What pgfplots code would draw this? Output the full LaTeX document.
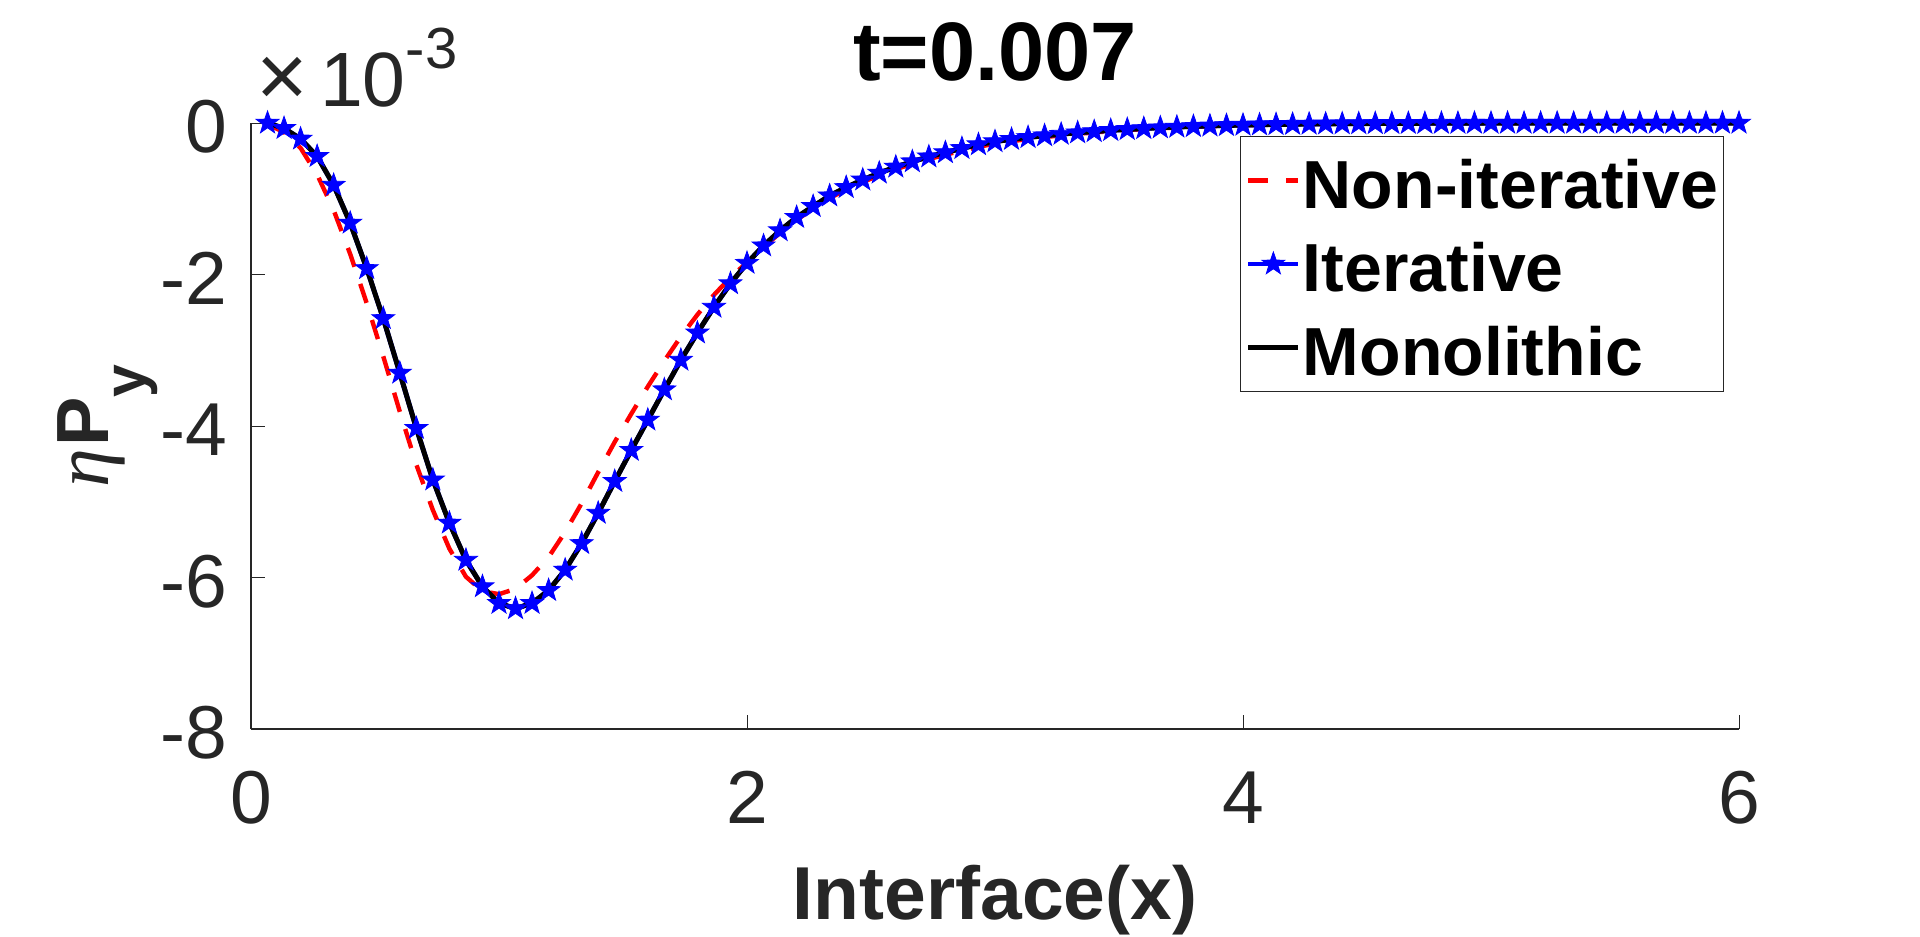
\documentclass[border=0pt]{standalone}
\usepackage{fontspec}
\setmainfont{Liberation Sans}
\newfontfamily\seriffont{Liberation Serif}
\usepackage{pgfplots}
\pgfplotsset{compat=1.18}
\usepackage{pgfplotstable}
\definecolor{g15}{rgb}{0.15,0.15,0.15}
\pgfdeclareplotmark{pstar}{%
  \pgfpathmoveto{\pgfpointpolar{90}{\pgfplotmarksize}}%
  \pgfpathlineto{\pgfpointpolar{126}{0.4\pgfplotmarksize}}%
  \pgfpathlineto{\pgfpointpolar{162}{\pgfplotmarksize}}%
  \pgfpathlineto{\pgfpointpolar{198}{0.4\pgfplotmarksize}}%
  \pgfpathlineto{\pgfpointpolar{234}{\pgfplotmarksize}}%
  \pgfpathlineto{\pgfpointpolar{270}{0.4\pgfplotmarksize}}%
  \pgfpathlineto{\pgfpointpolar{306}{\pgfplotmarksize}}%
  \pgfpathlineto{\pgfpointpolar{342}{0.4\pgfplotmarksize}}%
  \pgfpathlineto{\pgfpointpolar{18}{\pgfplotmarksize}}%
  \pgfpathlineto{\pgfpointpolar{54}{0.4\pgfplotmarksize}}%
  \pgfpathclose\pgfusepathqfillstroke}

% y values in units of 1e-3
\pgfplotstableread{
x y
0.0667 0
0.1333 -0.07
0.2000 -0.21
0.2667 -0.44
0.3333 -0.82
0.4000 -1.32
0.4667 -1.92
0.5333 -2.58
0.6000 -3.30
0.6667 -4.03
0.7333 -4.71
0.8000 -5.28
0.8667 -5.77
0.9333 -6.12
1.0000 -6.34
1.0667 -6.41
1.1333 -6.34
1.2000 -6.17
1.2667 -5.90
1.3333 -5.55
1.4000 -5.15
1.4667 -4.73
1.5333 -4.32
1.6000 -3.92
1.6667 -3.52
1.7333 -3.13
1.8000 -2.77
1.8667 -2.43
1.9333 -2.12
2.0000 -1.85
2.0667 -1.62
2.1333 -1.42
2.2000 -1.245
2.2667 -1.10
2.3333 -0.96
2.4000 -0.85
2.4667 -0.75
2.5333 -0.66
2.6000 -0.58
2.6667 -0.51
2.7333 -0.445
2.8000 -0.39
2.8667 -0.335
2.9333 -0.285
3.0000 -0.245
3.0667 -0.215
3.1333 -0.19
3.2000 -0.167
3.2667 -0.147
3.3333 -0.128
3.4000 -0.112
3.4667 -0.097
3.5333 -0.084
3.6000 -0.072
3.6667 -0.062
3.7333 -0.053
3.8000 -0.045
3.8667 -0.038
3.9333 -0.032
4.0000 -0.027
4.0667 -0.023
4.1333 -0.019
4.2000 -0.016
4.2667 -0.013
4.3333 -0.011
4.4000 -0.009
4.4667 -0.0075
4.5333 -0.006
4.6000 -0.005
4.6667 -0.004
4.7333 -0.003
4.8000 -0.0025
4.8667 -0.002
4.9333 -0.0015
5.0000 -0.001
5.0667 -0.0008
5.1333 -0.0006
5.2000 -0.0004
5.2667 -0.0003
5.3333 -0.0002
5.4000 -0.0001
5.4667 0
5.5333 0
5.6000 0
5.6667 0
5.7333 0
5.8000 0
5.8667 0
5.9333 0
6.0000 0
}\mono

\pgfplotstableread{
x y
0.0667 -0.02
0.1333 -0.12
0.2000 -0.33
0.2667 -0.68
0.3333 -1.15
0.4000 -1.73
0.4667 -2.38
0.5333 -3.08
0.6000 -3.81
0.6667 -4.51
0.7333 -5.11
0.8000 -5.62
0.8667 -5.99
0.9333 -6.18
1.0000 -6.22
1.0667 -6.15
1.1333 -5.97
1.2000 -5.73
1.2667 -5.40
1.3333 -5.02
1.4000 -4.61
1.4667 -4.21
1.5333 -3.84
1.6000 -3.48
1.6667 -3.14
1.7333 -2.82
1.8000 -2.53
1.8667 -2.27
1.9333 -2.04
2.0000 -1.84
2.0667 -1.64
2.1333 -1.45
2.2000 -1.28
2.2667 -1.13
2.3333 -0.99
2.4000 -0.88
2.4667 -0.78
2.5333 -0.69
2.6000 -0.61
2.6667 -0.54
2.7333 -0.475
2.8000 -0.42
2.8667 -0.365
2.9333 -0.315
3.0000 -0.272
3.0667 -0.24
3.1333 -0.212
3.2000 -0.186
3.2667 -0.163
3.3333 -0.143
3.4000 -0.125
3.4667 -0.108
3.5333 -0.094
3.6000 -0.081
3.6667 -0.07
3.7333 -0.06
3.8000 -0.051
3.8667 -0.043
3.9333 -0.036
4.0000 -0.03
4.0667 -0.025
4.1333 -0.021
4.2000 -0.018
4.2667 -0.015
4.3333 -0.012
4.4000 -0.010
4.4667 -0.008
4.5333 -0.007
4.6000 -0.006
4.6667 -0.005
4.7333 -0.004
4.8000 -0.003
4.8667 -0.0025
4.9333 -0.002
5.0000 -0.0015
5.0667 -0.001
5.1333 -0.0008
5.2000 -0.0006
5.2667 -0.0004
5.3333 -0.0003
5.4000 -0.0002
5.4667 -0.0001
5.5333 0
5.6000 0
5.6667 0
5.7333 0
5.8000 0
5.8667 0
5.9333 0
6.0000 0
}\nonit

\begin{document}
\begin{tikzpicture}
\path[use as bounding box] (0,0) rectangle (960pt,468pt);
\begin{axis}[
  at={(125.5pt,103.5pt)}, anchor=south west,
  scale only axis, width=744pt, height=303pt,
  xmin=0, xmax=6, ymin=-8, ymax=0,
  axis x line=bottom, axis y line=left,
  axis line style={g15, line width=0.6pt, -},
  xtick={0,2,4,6}, xticklabels={0,2,4,6},
  ytick={-8,-6,-4,-2,0}, yticklabels={-8,-6,-4,-2,0},
  tick align=inside, major tick length=7pt,
  tick style={g15, line width=0.5pt},
  xticklabel style={font=\fontsize{37.5}{45}\selectfont, text=g15, anchor=base, inner sep=0pt, yshift=-47pt},
  yticklabel style={font=\fontsize{37.5}{45}\selectfont, text=g15, anchor=east, inner sep=0pt, xshift=-11.5pt, yshift=-2pt},
  xlabel={Interface(x)},
  xlabel style={at={(axis description cs:0.5,0)}, anchor=base, inner sep=0pt, yshift=-95pt, font=\fontsize{37.5}{45}\selectfont\bfseries, text=g15},
  ylabel={{\seriffont\itshape\fontsize{39}{45}\selectfont η}\kern1pt\textbf{P}\raisebox{-18.8pt}{\fontsize{29.5}{35}\selectfont\bfseries y}},
  ylabel style={at={(axis description cs:-0.0961,0.5)}, anchor=base, inner sep=0pt, font=\fontsize{37}{44}\selectfont, text=g15},
  title={t=0.007},
  title style={at={(axis description cs:0.5,1)}, anchor=base, inner sep=0pt, yshift=15.2pt, font=\fontsize{41.5}{50}\selectfont\bfseries},
  clip=false,
  legend cell align=left,
  legend style={at={(axis description cs:1,1)}, anchor=north east, xshift=-7.5pt, yshift=-6.5pt,
    draw=g15, line width=0.5pt, fill=white, inner xsep=2.5pt, inner ysep=1.25pt,
    font=\fontsize{34}{41}\selectfont\bfseries,
    nodes={inner sep=0pt, text height=34.75pt, text depth=6.9pt},
    row sep=0pt, column sep=1pt},
  legend image code/.code={\draw[mark repeat=2,mark phase=2,#1] plot coordinates {(0pt,0pt) (12.5pt,0pt) (25pt,0pt)};},
]
\addplot[red, line width=2.2pt, dash pattern=on 10pt off 9pt] table[x=x,y=y] {\nonit};
\addlegendentry{Non-iterative}
\addplot[blue, line width=2.4pt, mark=pstar, mark size=6pt, mark options={solid, fill=blue, draw=blue, line width=0.4pt}] table[x=x,y=y] {\mono};
\addlegendentry{Iterative}
\addplot[black, line width=2.5pt] table[x=x,y=y] {\mono};
\addlegendentry{Monolithic}
\node[anchor=base west, inner sep=0pt, font=\fontsize{38.5}{46}\selectfont, text=g15, xshift=2.5pt, yshift=8.2pt] at (axis description cs:0,1) {\scalebox{1.15}{×}\kern6pt10\raisebox{19.2pt}{\fontsize{29}{34}\selectfont -3}};
\end{axis}
\end{tikzpicture}
\end{document}
